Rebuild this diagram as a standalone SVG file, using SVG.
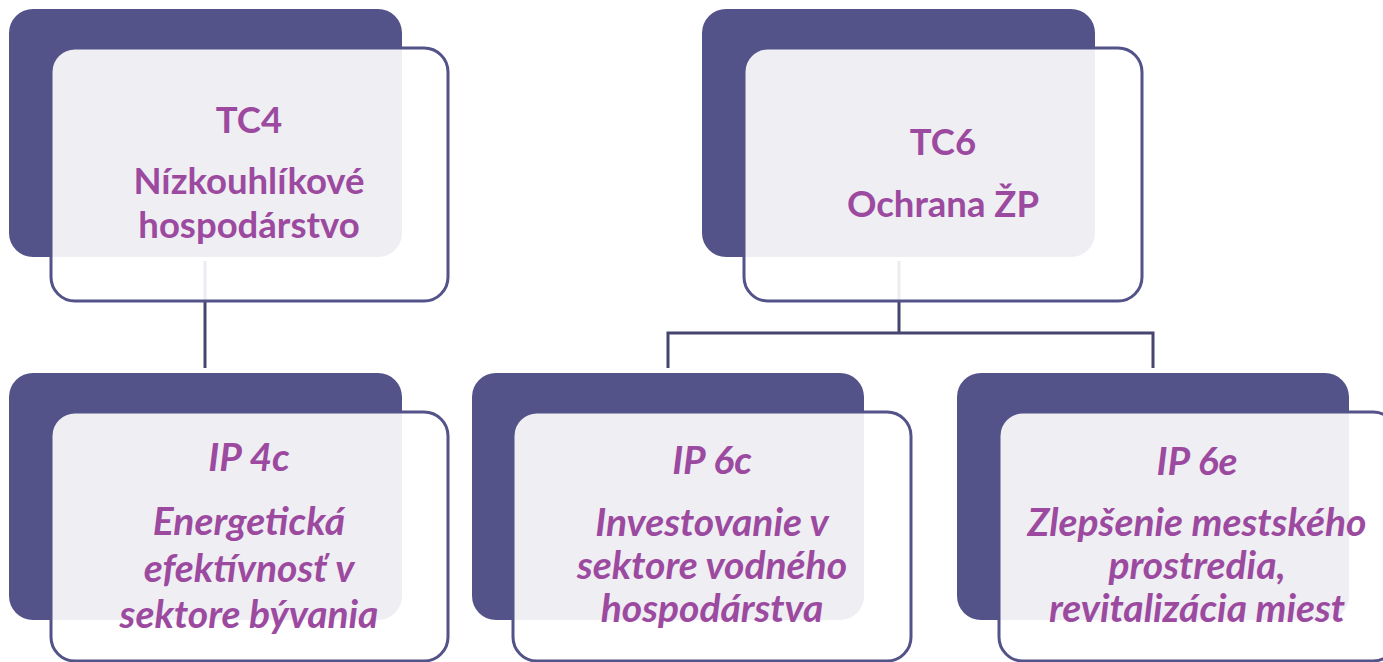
<svg xmlns="http://www.w3.org/2000/svg" width="1383" height="662" viewBox="0 0 1383 662">
<style>
.back{fill:#535389}
.front{fill:#ffffff;fill-opacity:0.9;stroke:#535389;stroke-width:3}
.conn{fill:none;stroke:#45456f;stroke-width:3}
.t{font-family:Lato,"Open Sans",sans-serif;font-weight:bold;font-size:36.5px;fill:#9c4aa0;text-anchor:middle}
.i{font-style:italic;font-size:39px}
</style>
<rect width="1383" height="662" fill="#ffffff"/>
<g id="connectors">
<path class="conn" d="M205 261V368"/>
<path class="conn" d="M899 261V333M668 368V333H1153V368"/>
</g>
<g id="tc4">
<rect class="back" x="9" y="9" width="393" height="248" rx="24"/>
<rect class="front" x="51" y="48" width="397" height="253" rx="24"/>
<text class="t" x="249" y="133">TC4</text>
<text class="t" x="249" y="194">Nízkouhlíkové</text>
<text class="t" x="249" y="238">hospodárstvo</text>
</g>
<g id="tc6">
<rect class="back" x="702" y="9" width="393" height="248" rx="24"/>
<rect class="front" x="744" y="48" width="398" height="253" rx="24"/>
<text class="t" x="943" y="155">TC6</text>
<text class="t" x="943" y="217">Ochrana ŽP</text>
</g>
<g id="ip4c">
<rect class="back" x="9" y="373" width="393" height="247" rx="24"/>
<rect class="front" x="51" y="412" width="397" height="249" rx="24"/>
<text class="t i" x="249" y="471">IP 4c</text>
<text class="t i" x="249" y="535">Energetická</text>
<text class="t i" x="249" y="582">efektívnosť v</text>
<text class="t i" x="249" y="628">sektore bývania</text>
</g>
<g id="ip6c">
<rect class="back" x="472" y="373" width="392" height="247" rx="24"/>
<rect class="front" x="513" y="412" width="398" height="249" rx="24"/>
<text class="t i" x="712" y="474">IP 6c</text>
<text class="t i" x="712" y="536">Investovanie v</text>
<text class="t i" x="712" y="579">sektore vodného</text>
<text class="t i" x="712" y="622">hospodárstva</text>
</g>
<g id="ip6e">
<rect class="back" x="957" y="373" width="392" height="247" rx="24"/>
<rect class="front" x="999" y="412" width="398" height="249" rx="24"/>
<text class="t i" x="1197" y="475">IP 6e</text>
<text class="t i" x="1197" y="536">Zlepšenie mestského</text>
<text class="t i" x="1197" y="579">prostredia,</text>
<text class="t i" x="1197" y="622">revitalizácia miest</text>
</g>
</svg>
